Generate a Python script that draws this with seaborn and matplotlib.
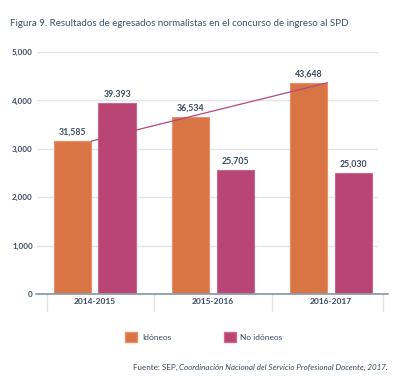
import matplotlib
matplotlib.use("Agg")
import matplotlib.pyplot as plt
from matplotlib.patches import Patch
import seaborn as sns
import pandas as pd

# ---- data ----
periods = ["2014-2015", "2015-2016", "2016-2017"]
series_names = ["Idóneos", "No idóneos"]
idoneos = [31585, 36534, 43648]
no_idoneos = [39393, 25705, 25030]
idoneos_labels = ["31,585", "36,534", "43,648"]
no_idoneos_labels = ["39.393", "25,705", "25,030"]
axis_scale = 10  # the chart's y axis (0-5,000) shows values divided by 10
y_ticks = [0, 1000, 2000, 3000, 4000, 5000]
y_tick_labels = ["0", "1,000", "2,000", "3,000", "4,000", "5,000"]
title = "Figura 9. Resultados de egresados normalistas en el concurso de ingreso al SPD"
source_regular = "Fuente: SEP, "
source_italic = "Coordinación Nacional del Servicio Profesional Docente, 2017."

ORANGE = "#D97445"
MAGENTA = "#B84574"
TEXT = "#3B4A60"

df = pd.DataFrame({
    "periodo": periods * 2,
    "serie": [series_names[0]] * 3 + [series_names[1]] * 3,
    "valor": [v / axis_scale for v in idoneos + no_idoneos],
})

sns.set_theme(style="white")
plt.rcParams["font.family"] = ["Lato", "DejaVu Sans"]

fig = plt.figure(figsize=(3.93, 3.79), dpi=100)
ax = fig.add_axes([37 / 393, 1 - 294 / 379, (378 - 37) / 393, (294 - 52) / 379])

sns.barplot(data=df, x="periodo", y="valor", hue="serie", order=periods,
            hue_order=series_names, palette=[ORANGE, MAGENTA], width=0.76,
            gap=0.16, ax=ax, legend=False, saturation=1)

for cont, col in zip(ax.containers, ["#E8916A", "#C9678F"]):
    for b in cont:
        b.set_edgecolor(col)
        b.set_linewidth(0.8)

ax.set_xlim(-0.49, 2.398)
ax.set_ylim(0, 5000)
ax.set_yticks(y_ticks)
ax.set_yticklabels(y_tick_labels)
ax.set_xlabel("")
ax.set_ylabel("")
ax.yaxis.grid(True, color="#E4E4E4", linewidth=1)
ax.set_axisbelow(True)
for s in ["left", "right", "top", "bottom"]:
    ax.spines[s].set_visible(False)
ax.plot([-0.5, 2.48], [0, 0], color="#8E9CAD", linewidth=1.3, clip_on=False, zorder=5)
ax.tick_params(axis="y", length=0, pad=3, labelsize=5.8, labelcolor=TEXT)
ax.tick_params(axis="x", length=0, pad=3, labelsize=6, labelcolor=TEXT)
for lab in ax.get_xticklabels():
    lab.set_fontweight("bold")
for lab in ax.get_yticklabels():
    lab.set_fontweight("bold")

# group separators below the axis
for xs in [-0.407, 0.5, 1.5, 2.44]:
    ax.plot([xs, xs], [0, -360], color="#E2E2E2", linewidth=0.9, clip_on=False)

# value labels
ax.bar_label(ax.containers[0], labels=idoneos_labels, padding=3, fontsize=6.3,
             color=TEXT, fontweight="bold")
ax.bar_label(ax.containers[1], labels=no_idoneos_labels, padding=3, fontsize=6.3,
             color=TEXT, fontweight="bold")

# trend line between the first and last Idóneos bars (top-right corners)
first = ax.containers[0][0]
last = ax.containers[0][-1]
ax.plot([first.get_x() + first.get_width(), last.get_x() + last.get_width()],
        [first.get_height(), last.get_height()], color="#B24A7D", linewidth=0.9, zorder=4)

fig.text(10 / 393, 1 - 23 / 379, title, fontsize=7.0, color="#3E5468",
         ha="left", va="center")

handles = [Patch(facecolor=ORANGE, edgecolor="#E8916A"), Patch(facecolor=MAGENTA, edgecolor="#C9678F")]
fig.legend(handles, series_names, loc="center", bbox_to_anchor=(204 / 393, 1 - 337 / 379),
           ncol=2, frameon=False, fontsize=6, handlelength=1.45, handleheight=1.45,
           handletextpad=0.55, columnspacing=6.3, labelcolor=TEXT)

fig.canvas.draw()
t_it = fig.text(388 / 393, 1 - 367 / 379, source_italic, fontsize=5.8, color=TEXT,
                style="italic", ha="right", va="center")
fig.canvas.draw()
bb = t_it.get_window_extent()
fig.text(bb.x0 / fig.bbox.width, 1 - 367 / 379, source_regular, fontsize=5.8, color=TEXT,
         ha="right", va="center")

fig.savefig("out.png", dpi=100, facecolor="white")
